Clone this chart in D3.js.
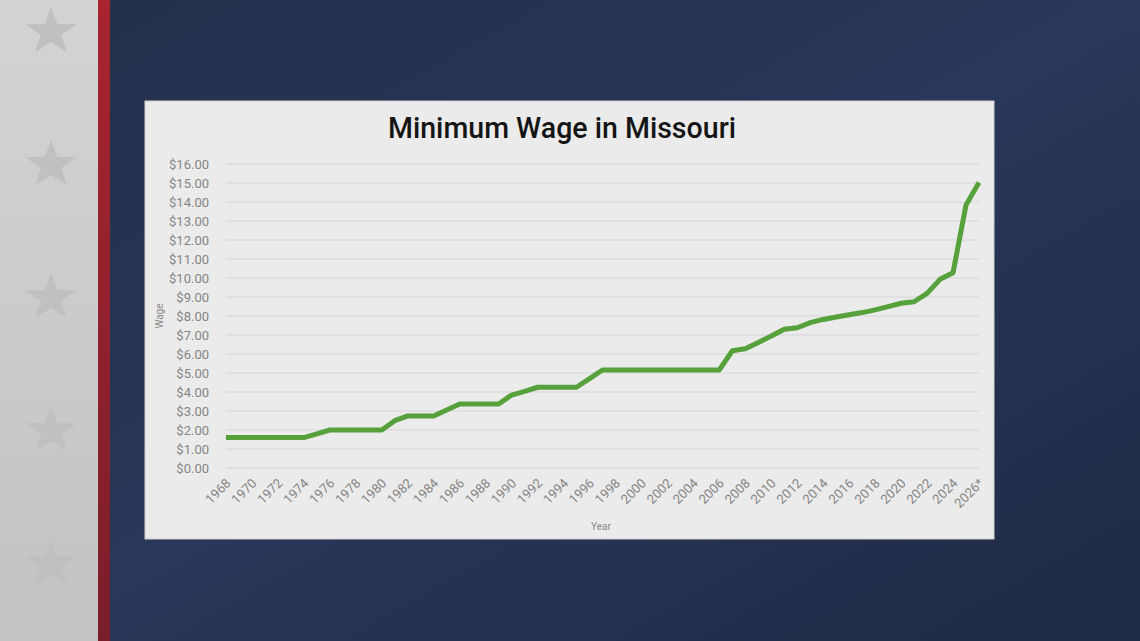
<!DOCTYPE html>
<html>
<head>
<meta charset="utf-8">
<script src="https://cdn.jsdelivr.net/npm/d3@7/dist/d3.min.js"></script>
<style>
html,body{margin:0;padding:0;background:#24314c;}
svg{display:block;}
</style>
</head>
<body>
<svg id="chart" width="1140" height="641"></svg>
<script>
// ---- data ----
const years = d3.range(1968, 2027).map(y => y === 2026 ? "2026*" : String(y));
const wages = [
  1.60, 1.60, 1.60, 1.60, 1.60, 1.60, 1.60, // 1968-1974
  1.80,                                     // 1975
  2.00, 2.00, 2.00, 2.00, 2.00,             // 1976-1980
  2.49,                                     // 1981
  2.74, 2.74, 2.74,                         // 1982-1984
  3.05,                                     // 1985
  3.37, 3.37, 3.37, 3.37,                   // 1986-1989
  3.84, 4.03,                               // 1990-1991
  4.25, 4.25, 4.25, 4.25,                   // 1992-1995
  4.70,                                     // 1996
  5.16, 5.16, 5.16, 5.16, 5.16, 5.16, 5.16, 5.16, 5.16, 5.16, // 1997-2006
  6.17, 6.28, 6.60, 6.95, 7.30, 7.38, 7.65, 7.82, 7.95, 8.07, // 2007-2016
  8.18, 8.32, 8.49, 8.67, 8.75, 9.19, 9.93, 10.28, 13.84, 15.02 // 2017-2026
];
const yTicks = d3.range(0, 17, 1);
const xTickLabels = years.filter((d, i) => i % 2 === 0);
const titleText = "Minimum Wage in Missouri";
const xAxisTitle = "Year";
const yAxisTitle = "Wage";

// ---- background ----
const svg = d3.select("#chart");
const defs = svg.append("defs");
const gNavy = defs.append("linearGradient").attr("id","navy").attr("x1","0").attr("y1","0").attr("x2","1").attr("y2","1");
gNavy.append("stop").attr("offset","0").attr("stop-color","#22304a");
gNavy.append("stop").attr("offset","0.5").attr("stop-color","#28375a");
gNavy.append("stop").attr("offset","1").attr("stop-color","#1f2b44");
const gGray = defs.append("linearGradient").attr("id","gray").attr("x1","0").attr("y1","0").attr("x2","0").attr("y2","1");
gGray.append("stop").attr("offset","0").attr("stop-color","#d3d3d3");
gGray.append("stop").attr("offset","1").attr("stop-color","#c3c3c3");
const gRed = defs.append("linearGradient").attr("id","red").attr("x1","0").attr("y1","0").attr("x2","0").attr("y2","1");
gRed.append("stop").attr("offset","0").attr("stop-color","#a8242f");
gRed.append("stop").attr("offset","1").attr("stop-color","#7a1e2a");

svg.append("rect").attr("width",1140).attr("height",641).attr("fill","url(#navy)");
svg.append("rect").attr("width",98).attr("height",641).attr("fill","url(#gray)");
svg.append("rect").attr("x",98).attr("width",12).attr("height",641).attr("fill","url(#red)");

const starCenters = [32, 165, 298, 431, 564];
const star = (cx, cy, R) => {
  const r = R * 0.4;
  const pts = [];
  for (let i = 0; i < 10; i++) {
    const a = -Math.PI / 2 + i * Math.PI / 5;
    const rad = i % 2 === 0 ? R : r;
    pts.push([cx + rad * Math.cos(a), cy + rad * Math.sin(a) * 0.92]);
  }
  return "M" + pts.map(p => p.join(",")).join("L") + "Z";
};
svg.selectAll("path.star").data(starCenters).enter().append("path")
  .attr("class","star").attr("d", d => star(51, d, 27)).attr("fill","#c0c0c0");

// ---- chart panel ----
const panel = {x:145, y:101, w:849, h:438};
svg.append("rect").attr("x",panel.x).attr("y",panel.y).attr("width",panel.w).attr("height",panel.h)
  .attr("fill","#ebebeb").attr("stroke","#d0d0d0").attr("stroke-width",1);

const x = d3.scalePoint().domain(years).range([226, 979]);
const y = d3.scaleLinear().domain([0, 16]).range([468, 164]);

// gridlines
svg.append("g").selectAll("line").data(yTicks).enter().append("line")
  .attr("x1", 226).attr("x2", 979)
  .attr("y1", d => y(d)).attr("y2", d => y(d))
  .attr("stroke", "#d5d5d5").attr("stroke-width", 1);

// y axis
const yAxis = svg.append("g").attr("transform","translate(226,0)")
  .call(d3.axisLeft(y).tickValues(yTicks).tickSize(0).tickPadding(17).tickFormat(d => "$" + d3.format(".2f")(d)));
yAxis.select(".domain").remove();
yAxis.selectAll("text").attr("fill","#858585").style("font-family","Roboto, 'Open Sans', sans-serif").style("font-size","13px");

// x axis
const xAxis = svg.append("g").attr("transform","translate(0,468)")
  .call(d3.axisBottom(x).tickValues(xTickLabels).tickSize(0).tickPadding(0));
xAxis.select(".domain").remove();
xAxis.selectAll("text")
  .attr("fill","#858585").style("font-family","Roboto, 'Open Sans', sans-serif").style("font-size","13px")
  .attr("text-anchor","end").attr("dy","0")
  .attr("transform", "translate(5,16) rotate(-45)")
  .attr("y", 0).attr("x", 0);

// line
const line = d3.line().x((d, i) => x(years[i])).y(d => y(d));
svg.append("path").datum(wages).attr("d", line)
  .attr("fill","none").attr("stroke","#56a13b").attr("stroke-width",5)
  .attr("stroke-linejoin","round").attr("stroke-linecap","butt");

// titles
svg.append("text").attr("x", 562).attr("y", 138).attr("text-anchor","middle")
  .attr("textLength", 348).attr("lengthAdjust","spacingAndGlyphs")
  .style("font-family","Roboto, 'Open Sans', sans-serif").style("font-size","30px").style("font-weight","500").attr("fill","#151515")
  .text(titleText);
svg.append("text").attr("x", 601).attr("y", 530).attr("text-anchor","middle")
  .style("font-family","Roboto, sans-serif").style("font-size","10px").attr("fill","#8a8a8a")
  .text(xAxisTitle);
svg.append("text").attr("transform","translate(163,316) rotate(-90)").attr("text-anchor","middle")
  .style("font-family","Roboto, sans-serif").style("font-size","10px").attr("fill","#8a8a8a")
  .text(yAxisTitle);
</script>
</body>
</html>
